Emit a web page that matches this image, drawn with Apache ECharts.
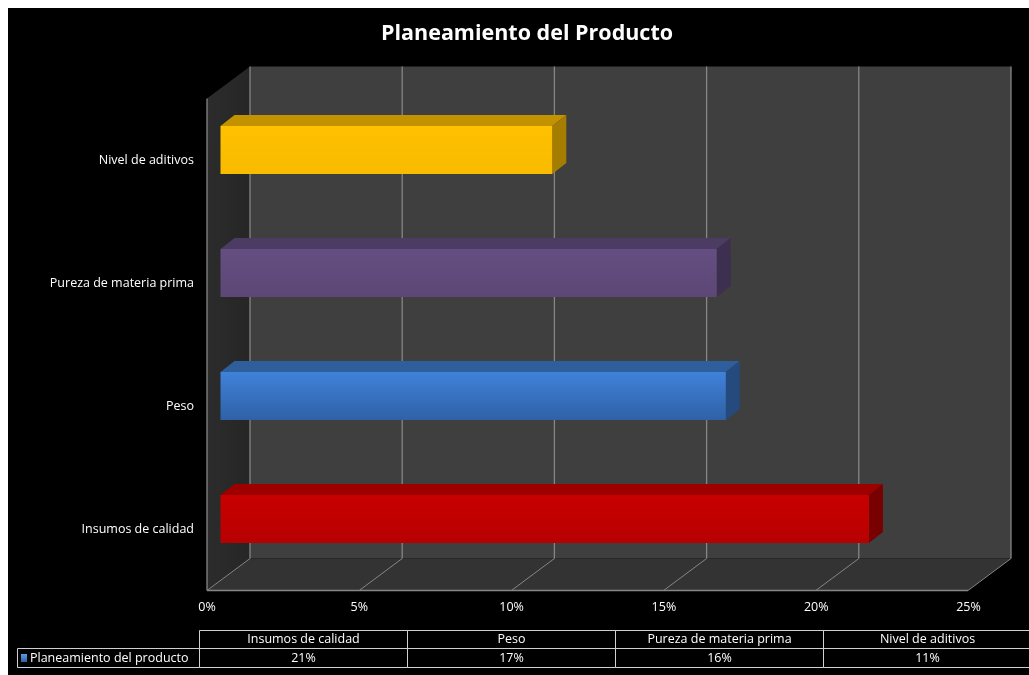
<!DOCTYPE html>
<html>
<head>
<meta charset="utf-8">
<script src="https://cdn.jsdelivr.net/npm/echarts@6/dist/echarts.min.js"></script>
<style>
  html, body { margin: 0; padding: 0; background: #ffffff; }
  #chart { width: 1029px; height: 675px; }
</style>
</head>
<body>
<div id="chart"></div>
<script>
// ---- data ----
const titleText = 'Planeamiento del Producto';
const seriesName = 'Planeamiento del producto';
const categories = ['Insumos de calidad', 'Peso', 'Pureza de materia prima', 'Nivel de aditivos'];
const values = [0.213, 0.166, 0.163, 0.109];
const xTicks = [0, 0.05, 0.10, 0.15, 0.20, 0.25];

// ---- styles ----
const faceColors = [
  { front: ['#c80000', '#b80000'], top: '#9e0000', side: '#780000' },
  { front: ['#3f82da', '#2f61a6'], top: '#2e5e9c', side: '#244a7e' },
  { front: ['#654e81', '#5c4776'], top: '#4c3b62', side: '#3d2f50' },
  { front: ['#ffc000', '#f8bb00'], top: '#c29200', side: '#a57d00' }
];
const FRONT = [-13.5, 10];   // front plane offset from bar plane
const BACK = [29.5, -22];    // back wall offset from bar plane
const DEPTH = [14, -11];     // bar depth
const FONT = "'Open Sans', 'Liberation Sans', sans-serif";
const GRIDCOL = '#868686';
const LBL = 12.5;

const chart = echarts.init(document.getElementById('chart'), null, { renderer: 'canvas' });

function pct(v) { return Math.round(v * 100) + '%'; }

// ---- data table (built from arrays) ----
const table = [];
const tLeft = 17, colStart = 199, colW = 208, hdrY = 630.5, hdrH = 18, rowY = 648.5, rowH = 19;
const lineStyle = { stroke: '#d0d0d0', lineWidth: 1, fill: null };
categories.forEach(function (c, i) {
  const x = colStart + i * colW + 0.5;
  table.push({ type: 'rect', shape: { x: x, y: hdrY, width: colW, height: hdrH }, style: lineStyle, silent: true });
  table.push({ type: 'rect', shape: { x: x, y: rowY, width: colW, height: rowH }, style: lineStyle, silent: true });
  table.push({ type: 'text', style: { text: c, x: x + colW / 2, y: hdrY + hdrH / 2, align: 'center', verticalAlign: 'middle', fill: '#ffffff', font: LBL + 'px ' + FONT }, silent: true });
  table.push({ type: 'text', style: { text: pct(values[i]), x: x + colW / 2, y: rowY + rowH / 2 + 0.5, align: 'center', verticalAlign: 'middle', fill: '#ffffff', font: LBL + 'px ' + FONT }, silent: true });
});
table.push({ type: 'rect', shape: { x: tLeft + 0.5, y: rowY, width: colStart - tLeft, height: rowH }, style: lineStyle, silent: true });
table.push({ type: 'rect', shape: { x: 21, y: 654, width: 6, height: 8 }, style: { fill: new echarts.graphic.LinearGradient(0, 0, 0, 1, [{ offset: 0, color: '#5b9be6' }, { offset: 1, color: '#2f61a6' }]) }, silent: true });
table.push({ type: 'text', style: { text: seriesName, x: 30, y: rowY + rowH / 2 + 0.5, align: 'left', verticalAlign: 'middle', fill: '#ffffff', font: LBL + 'px ' + FONT }, silent: true });

const option = {
  backgroundColor: '#000000',
  animation: false,
  title: {
    text: titleText,
    left: 376,
    top: 18,
    textStyle: { color: '#ffffff', fontSize: 21.5, fontWeight: 'bold', fontFamily: FONT }
  },
  grid: [
    { left: 220.5, right: 47.5, top: 88.5, bottom: 94.5 },   // bar plane
    { left: 207, right: 60.5, top: 98.5, bottom: 84 }       // front plane (labels)
  ],
  xAxis: [
    { type: 'value', gridIndex: 0, min: 0, max: 0.25, interval: 0.05, show: false },
    {
      type: 'value', gridIndex: 1, min: 0, max: 0.25, interval: 0.05,
      axisLine: { show: false }, axisTick: { show: false }, splitLine: { show: false },
      axisLabel: { color: '#ffffff', fontSize: LBL, fontFamily: FONT, margin: 10, formatter: function (v) { return Math.round(v * 100) + '%'; } }
    }
  ],
  yAxis: [
    { type: 'category', gridIndex: 0, data: categories, show: false },
    {
      type: 'category', gridIndex: 1, data: categories,
      axisLine: { show: false }, axisTick: { show: false }, splitLine: { show: false },
      axisLabel: { color: '#ffffff', fontSize: LBL, fontFamily: FONT, margin: 13 }
    }
  ],
  graphic: [
    { type: 'rect', shape: { x: 0, y: 0, width: 1029, height: 8 }, style: { fill: '#ffffff' }, silent: true },
    { type: 'rect', shape: { x: 0, y: 0, width: 8, height: 675 }, style: { fill: '#ffffff' }, silent: true }
  ].concat(table),
  series: [
    {
      type: 'custom',
      name: 'walls',
      xAxisIndex: 0, yAxisIndex: 0,
      silent: true, clip: false, z: 1,
      data: [[0, 0]],
      renderItem: function (params, api) {
        const cs = params.coordSys;
        const x0 = cs.x, x1 = cs.x + cs.width, yT = cs.y, yB = cs.y + cs.height;
        const kids = [];
        // back wall
        kids.push({ type: 'rect', shape: { x: x0 + BACK[0], y: yT + BACK[1], width: cs.width, height: cs.height }, style: { fill: '#3f3f3f' } });
        // left side wall
        kids.push({ type: 'polygon', shape: { points: [[x0 + FRONT[0], yT + FRONT[1]], [x0 + BACK[0], yT + BACK[1]], [x0 + BACK[0], yB + BACK[1]], [x0 + FRONT[0], yB + FRONT[1]]] },
          style: { fill: new echarts.graphic.LinearGradient(0, 0, 1, 0, [{ offset: 0, color: '#2c2c2c' }, { offset: 1, color: '#262626' }]) } });
        // floor
        kids.push({ type: 'polygon', shape: { points: [[x0 + FRONT[0], yB + FRONT[1]], [x1 + FRONT[0], yB + FRONT[1]], [x1 + BACK[0], yB + BACK[1]], [x0 + BACK[0], yB + BACK[1]]] },
          style: { fill: '#333333' } });
        // grid lines
        xTicks.forEach(function (t) {
          const px = api.coord([t, 0])[0];
          kids.push({ type: 'line', shape: { x1: px + BACK[0], y1: yT + BACK[1], x2: px + BACK[0], y2: yB + BACK[1] }, style: { stroke: GRIDCOL, lineWidth: 1.3 } });
          kids.push({ type: 'line', shape: { x1: px + FRONT[0], y1: yB + FRONT[1], x2: px + BACK[0], y2: yB + BACK[1] }, style: { stroke: GRIDCOL, lineWidth: 1 } });
        });
        // floor front edge & left wall front edge
        kids.push({ type: 'line', shape: { x1: x0 + FRONT[0], y1: yB + FRONT[1], x2: x1 + FRONT[0], y2: yB + FRONT[1] }, style: { stroke: GRIDCOL, lineWidth: 1.3 } });
        kids.push({ type: 'line', shape: { x1: x0 + FRONT[0], y1: yT + FRONT[1], x2: x0 + FRONT[0], y2: yB + FRONT[1] }, style: { stroke: GRIDCOL, lineWidth: 1.3 } });
        return { type: 'group', children: kids };
      }
    },
    {
      type: 'custom',
      name: seriesName,
      xAxisIndex: 0, yAxisIndex: 0,
      clip: false, z: 2,
      data: values.map(function (v, i) { return [v, i]; }),
      encode: { x: 0, y: 1 },
      renderItem: function (params, api) {
        const v = api.value(0), c = api.value(1);
        const p0 = api.coord([0, c]), p1 = api.coord([v, c]);
        const h = api.size([0, 1])[1] * 0.39;
        const yt = p0[1] - h / 2, yb = yt + h;
        const xa = p0[0], xb = p1[0];
        const col = faceColors[c];
        return {
          type: 'group',
          children: [
            { type: 'polygon', shape: { points: [[xa, yt], [xb, yt], [xb + DEPTH[0], yt + DEPTH[1]], [xa + DEPTH[0], yt + DEPTH[1]]] }, style: { fill: col.top } },
            { type: 'polygon', shape: { points: [[xb, yt], [xb + DEPTH[0], yt + DEPTH[1]], [xb + DEPTH[0], yb + DEPTH[1]], [xb, yb]] }, style: { fill: col.side } },
            { type: 'rect', shape: { x: xa, y: yt, width: xb - xa, height: h },
              style: { fill: new echarts.graphic.LinearGradient(0, 0, 0, 1, [{ offset: 0, color: col.front[0] }, { offset: 1, color: col.front[1] }]) } }
          ]
        };
      }
    }
  ]
};
chart.setOption(option);
</script>
</body>
</html>
